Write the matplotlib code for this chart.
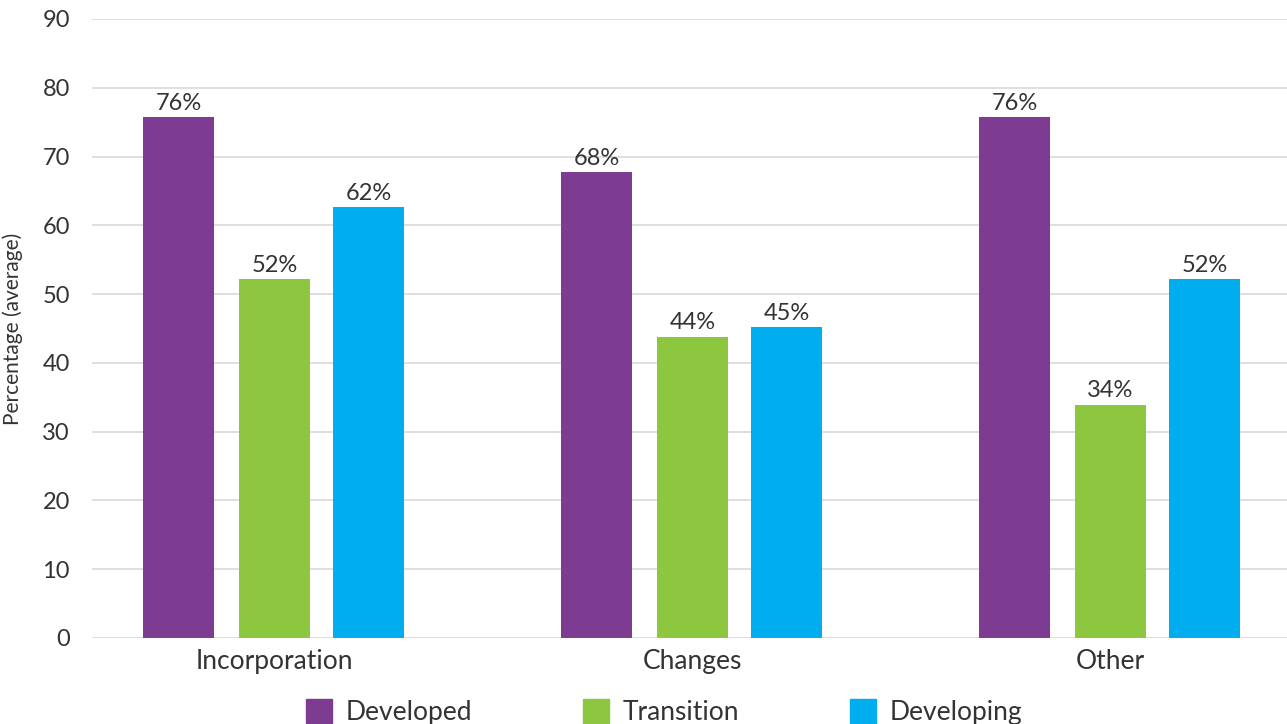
import numpy as np
from matplotlib import pyplot as plt
from matplotlib.patches import Patch

plt.rcParams['font.family'] = ['Lato', 'DejaVu Sans']

categories = ['Incorporation', 'Changes', 'Other']
series_names = ['Developed', 'Transition', 'Developing']
developed = [75.7, 67.7, 75.7]
transition = [52.2, 43.8, 33.9]
developing = [62.6, 45.2, 52.2]
value_labels = [['76%', '68%', '76%'], ['52%', '44%', '34%'], ['62%', '45%', '52%']]
y_ticks = [0, 10, 20, 30, 40, 50, 60, 70, 80, 90]

colors = ['#7D3C92', '#8DC63F', '#00AEEF']
text_color = '#333333'

fig = plt.figure(figsize=(12.87, 7.24), dpi=100)
ax = fig.add_axes([0.0715, 0.1188, 0.9285, 0.855])

x = np.arange(len(categories))
width = 0.17
offsets = [-0.23, 0.0, 0.225]
all_series = [developed, transition, developing]

for vals, off, col, labels in zip(all_series, offsets, colors, value_labels):
    bars = ax.bar(x + off, vals, width, color=col, zorder=3)
    for b, lab in zip(bars, labels):
        ax.text(b.get_x() + b.get_width() / 2, b.get_height() + 0.5, lab,
                ha='center', va='bottom', fontsize=17, color=text_color)

ax.set_ylim(0, 90)
ax.set_xlim(-0.4366, 2.422)
ax.set_yticks(y_ticks)
ax.set_yticklabels([str(t) for t in y_ticks], fontsize=17, color=text_color)
ax.set_xticks(x)
ax.set_xticklabels(categories, fontsize=19, color=text_color)
ax.tick_params(axis='y', length=0, pad=16)
ax.tick_params(axis='x', length=0, pad=8)
ax.grid(axis='y', color='#d9d9d9', linewidth=1.2, zorder=0)
for s in ax.spines.values():
    s.set_visible(False)

ax.set_ylabel('Percentage (average)', fontsize=15, color=text_color)
ax.yaxis.set_label_coords(-0.058, 0.5)

handles = [Patch(color=c) for c in colors]
fig.legend(handles, series_names, loc='lower center', bbox_to_anchor=(0.516, -0.034),
           ncol=3, frameon=False, fontsize=19, handlelength=1.0, handleheight=1.0,
           handletextpad=0.5, columnspacing=4.2, labelcolor=text_color)

plt.savefig('out.png', dpi=100)
